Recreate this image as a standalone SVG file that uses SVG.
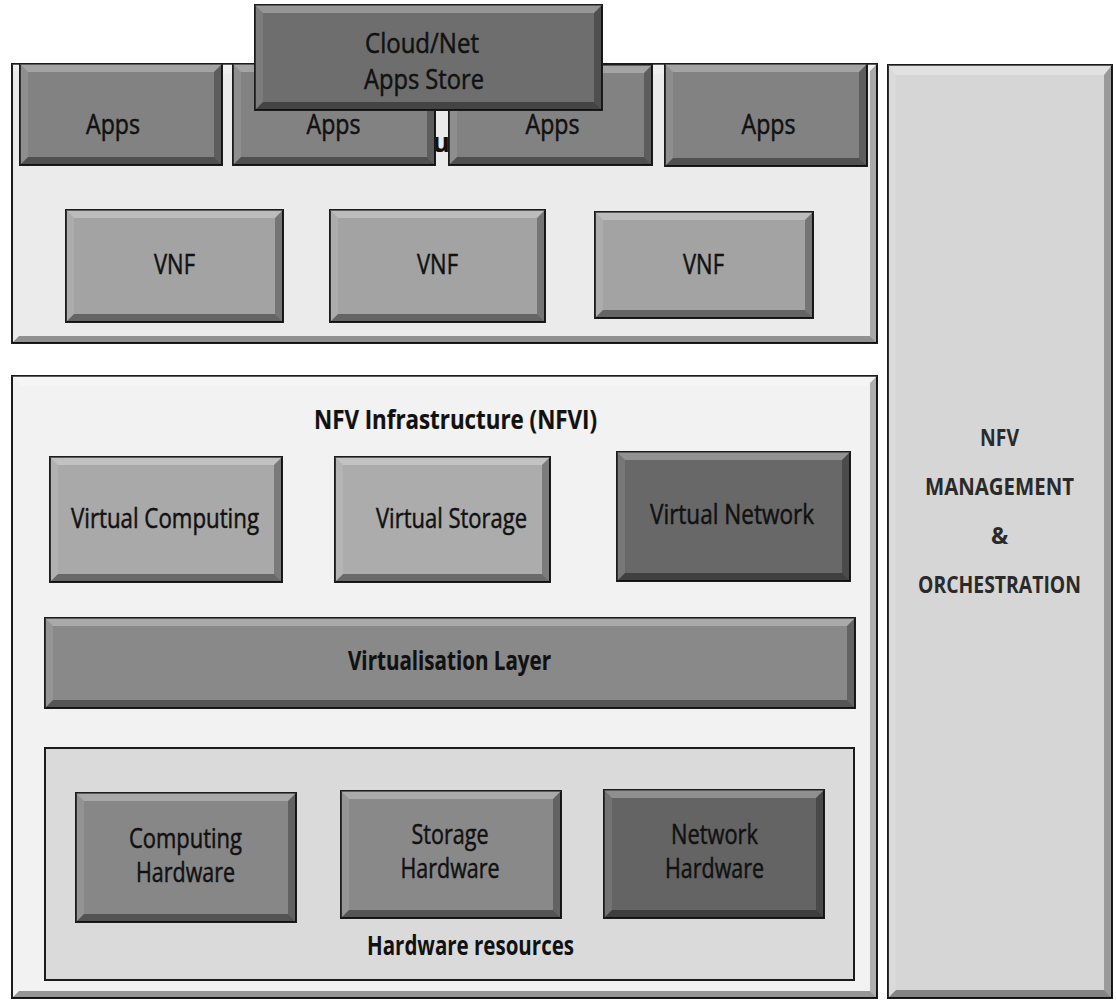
<svg xmlns="http://www.w3.org/2000/svg" width="1116" height="1001" viewBox="0 0 1116 1001">
<style>
.box{stroke:#1c1c1c;stroke-width:2}
.bt{fill:#ffffff;fill-opacity:.28}
.bl{fill:#ffffff;fill-opacity:.1}
.br{fill:#000000;fill-opacity:.28}
.bb{fill:#000000;fill-opacity:.38}
text{font-family:"Open Sans","Liberation Sans",sans-serif;fill:#111;text-anchor:middle}
.lbl{font-size:27px;stroke:#111;stroke-width:0.5px}
.bold{font-weight:bold;stroke-width:0.2px}
.mg{font-size:23px;font-weight:bold;fill:#2a2a2a}
</style>
<rect width="1116" height="1001" fill="#ffffff"/>

<g id="vnf-layer">
<rect class="box" x="12" y="64" width="865" height="279" fill="#ebebeb"/>
<polygon class="bt" points="12,64 877,64 867,74 22,74"/>
<polygon class="br" points="877,64 877,343 870,336 870,71"/>
<polygon class="bb" points="12,343 877,343 870,336 19,336"/>
<text class="lbl bold" x="441" y="152">u</text>
</g>

<g id="apps-1">
<rect class="box" x="20" y="64" width="202" height="101" fill="#828282"/>
<polygon class="bt" points="20,64 222,64 214,72 28,72"/><polygon class="bl" points="20,64 28,72 28,157 20,165"/><polygon class="br" points="222,64 222,165 214,157 214,72"/><polygon class="bb" points="20,165 222,165 214,157 28,157"/>
<text class="lbl" x="113" y="134" textLength="54" lengthAdjust="spacingAndGlyphs">Apps</text>
</g>
<g id="apps-2">
<rect class="box" x="233" y="64" width="202" height="101" fill="#828282"/>
<polygon class="bt" points="233,64 435,64 427,72 241,72"/><polygon class="bl" points="233,64 241,72 241,157 233,165"/><polygon class="br" points="435,64 435,165 427,157 427,72"/><polygon class="bb" points="233,165 435,165 427,157 241,157"/>
<text class="lbl" x="333.5" y="134" textLength="54" lengthAdjust="spacingAndGlyphs">Apps</text>
</g>
<g id="apps-3">
<rect class="box" x="449" y="65" width="203" height="100" fill="#828282"/>
<polygon class="bt" points="449,65 652,65 644,73 457,73"/><polygon class="bl" points="449,65 457,73 457,157 449,165"/><polygon class="br" points="652,65 652,165 644,157 644,73"/><polygon class="bb" points="449,165 652,165 644,157 457,157"/>
<text class="lbl" x="552.5" y="134" textLength="54" lengthAdjust="spacingAndGlyphs">Apps</text>
</g>
<g id="apps-4">
<rect class="box" x="665" y="64" width="202" height="102" fill="#828282"/>
<polygon class="bt" points="665,64 867,64 859,72 673,72"/><polygon class="bl" points="665,64 673,72 673,158 665,166"/><polygon class="br" points="867,64 867,166 859,158 859,72"/><polygon class="bb" points="665,166 867,166 859,158 673,158"/>
<text class="lbl" x="768.5" y="134" textLength="54" lengthAdjust="spacingAndGlyphs">Apps</text>
</g>

<g id="apps-store">
<rect class="box" x="255" y="5" width="347" height="105" fill="#6e6e6e"/>
<polygon class="bt" points="255,5 602,5 594,13 263,13"/><polygon class="bl" points="255,5 263,13 263,102 255,110"/><polygon class="br" points="602,5 602,110 594,102 594,13"/><polygon class="bb" points="255,110 602,110 594,102 263,102"/>
<text class="lbl" x="422" y="53" font-size="28" textLength="114" lengthAdjust="spacingAndGlyphs">Cloud/Net</text>
<text class="lbl" x="424" y="89" font-size="28" textLength="120" lengthAdjust="spacingAndGlyphs">Apps Store</text>
</g>

<g id="vnf-1">
<rect class="box" x="66" y="210" width="217" height="112" fill="#a3a3a3"/>
<polygon class="bt" points="66,210 283,210 275,218 74,218"/><polygon class="bl" points="66,210 74,218 74,314 66,322"/><polygon class="br" points="283,210 283,322 275,314 275,218"/><polygon class="bb" points="66,322 283,322 275,314 74,314"/>
<text class="lbl" x="174.5" y="274" textLength="41" lengthAdjust="spacingAndGlyphs">VNF</text>
</g>
<g id="vnf-2">
<rect class="box" x="330" y="210" width="215" height="112" fill="#a3a3a3"/>
<polygon class="bt" points="330,210 545,210 537,218 338,218"/><polygon class="bl" points="330,210 338,218 338,314 330,322"/><polygon class="br" points="545,210 545,322 537,314 537,218"/><polygon class="bb" points="330,322 545,322 537,314 338,314"/>
<text class="lbl" x="437.5" y="274" textLength="41" lengthAdjust="spacingAndGlyphs">VNF</text>
</g>
<g id="vnf-3">
<rect class="box" x="595" y="212" width="218" height="106" fill="#a3a3a3"/>
<polygon class="bt" points="595,212 813,212 805,220 603,220"/><polygon class="bl" points="595,212 603,220 603,310 595,318"/><polygon class="br" points="813,212 813,318 805,310 805,220"/><polygon class="bb" points="595,318 813,318 805,310 603,310"/>
<text class="lbl" x="703.5" y="274" textLength="41" lengthAdjust="spacingAndGlyphs">VNF</text>
</g>

<g id="nfvi">
<rect class="box" x="12" y="376" width="865" height="622" fill="#f2f2f2"/>
<polygon class="bt" points="12,376 877,376 867,386 22,386"/>
<polygon class="br" points="877,376 877,998 870,991 870,383"/>
<polygon class="bb" points="12,998 877,998 870,991 19,991"/>
<text class="lbl bold" x="455.5" y="429" textLength="283" lengthAdjust="spacingAndGlyphs">NFV Infrastructure (NFVI)</text>
</g>

<g id="virtual-computing">
<rect class="box" x="50" y="457" width="232" height="125" fill="#a9a9a9"/>
<polygon class="bt" points="50,457 282,457 274,465 58,465"/><polygon class="bl" points="50,457 58,465 58,574 50,582"/><polygon class="br" points="282,457 282,582 274,574 274,465"/><polygon class="bb" points="50,582 282,582 274,574 58,574"/>
<text class="lbl" x="165" y="528" textLength="188" lengthAdjust="spacingAndGlyphs">Virtual Computing</text>
</g>
<g id="virtual-storage">
<rect class="box" x="335" y="457" width="215" height="125" fill="#acacac"/>
<polygon class="bt" points="335,457 550,457 542,465 343,465"/><polygon class="bl" points="335,457 343,465 343,574 335,582"/><polygon class="br" points="550,457 550,582 542,574 542,465"/><polygon class="bb" points="335,582 550,582 542,574 343,574"/>
<text class="lbl" x="451.5" y="528" textLength="151" lengthAdjust="spacingAndGlyphs">Virtual Storage</text>
</g>
<g id="virtual-network">
<rect class="box" x="617" y="452" width="233" height="129" fill="#686868"/>
<polygon class="bt" points="617,452 850,452 842,460 625,460"/><polygon class="bl" points="617,452 625,460 625,573 617,581"/><polygon class="br" points="850,452 850,581 842,573 842,460"/><polygon class="bb" points="617,581 850,581 842,573 625,573"/>
<text class="lbl" x="732" y="524" textLength="164" lengthAdjust="spacingAndGlyphs">Virtual Network</text>
</g>

<g id="virtualisation-layer">
<rect class="box" x="45" y="618" width="810" height="90" fill="#898989"/>
<polygon class="bt" points="45,618 855,618 847,626 53,626"/><polygon class="bl" points="45,618 53,626 53,700 45,708"/><polygon class="br" points="855,618 855,708 847,700 847,626"/><polygon class="bb" points="45,708 855,708 847,700 53,700"/>
<text class="lbl bold" x="449.5" y="670" textLength="203" lengthAdjust="spacingAndGlyphs">Virtualisation Layer</text>
</g>

<g id="hardware-resources">
<rect class="box" x="45" y="748" width="809" height="232" fill="#dadada"/>
<text class="bold" x="470.5" y="955" font-size="26" textLength="207" lengthAdjust="spacingAndGlyphs">Hardware resources</text>
</g>

<g id="computing-hardware">
<rect class="box" x="76" y="793" width="220" height="129" fill="#878787"/>
<polygon class="bt" points="76,793 296,793 288,801 84,801"/><polygon class="bl" points="76,793 84,801 84,914 76,922"/><polygon class="br" points="296,793 296,922 288,914 288,801"/><polygon class="bb" points="76,922 296,922 288,914 84,914"/>
<text class="lbl" x="185.5" y="848" textLength="113" lengthAdjust="spacingAndGlyphs">Computing</text>
<text class="lbl" x="185.5" y="882" textLength="99" lengthAdjust="spacingAndGlyphs">Hardware</text>
</g>
<g id="storage-hardware">
<rect class="box" x="341" y="791" width="220" height="127" fill="#898989"/>
<polygon class="bt" points="341,791 561,791 553,799 349,799"/><polygon class="bl" points="341,791 349,799 349,910 341,918"/><polygon class="br" points="561,791 561,918 553,910 553,799"/><polygon class="bb" points="341,918 561,918 553,910 349,910"/>
<text class="lbl" x="450" y="844" textLength="77" lengthAdjust="spacingAndGlyphs">Storage</text>
<text class="lbl" x="450" y="878" textLength="99" lengthAdjust="spacingAndGlyphs">Hardware</text>
</g>
<g id="network-hardware">
<rect class="box" x="604" y="790" width="220" height="128" fill="#646464"/>
<polygon class="bt" points="604,790 824,790 816,798 612,798"/><polygon class="bl" points="604,790 612,798 612,910 604,918"/><polygon class="br" points="824,790 824,918 816,910 816,798"/><polygon class="bb" points="604,918 824,918 816,910 612,910"/>
<text class="lbl" x="714.5" y="844" textLength="87" lengthAdjust="spacingAndGlyphs">Network</text>
<text class="lbl" x="714.5" y="878" textLength="99" lengthAdjust="spacingAndGlyphs">Hardware</text>
</g>

<g id="nfv-mano">
<rect class="box" x="888" y="65" width="224" height="933" fill="#d6d6d6"/>
<polygon class="bt" points="888,65 1112,65 1104,75 896,75"/><polygon class="bl" points="888,65 896,75 896,990 888,998"/><polygon class="br" points="1112,65 1112,998 1104,990 1104,75"/><polygon class="bb" points="888,998 1112,998 1104,990 896,990"/>
<text class="mg" x="999.5" y="446" textLength="39" lengthAdjust="spacingAndGlyphs">NFV</text>
<text class="mg" x="999.5" y="495" textLength="149" lengthAdjust="spacingAndGlyphs">MANAGEMENT</text>
<text class="mg" x="999.5" y="544">&amp;</text>
<text class="mg" x="999.5" y="593" textLength="163" lengthAdjust="spacingAndGlyphs">ORCHESTRATION</text>
</g>

<g id="connectors"></g>
</svg>
